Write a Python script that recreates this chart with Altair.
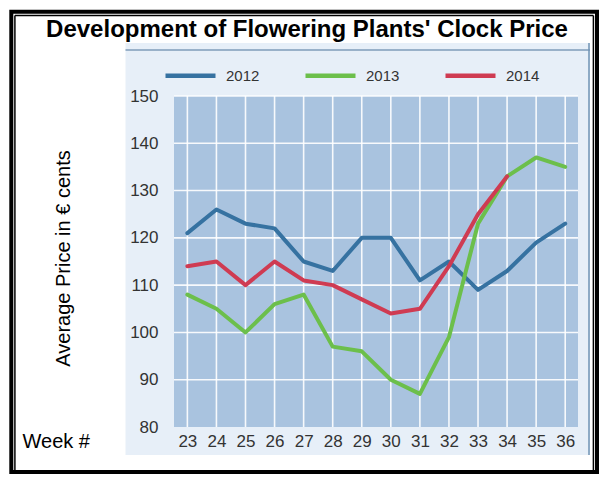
import altair as alt
import pandas as pd

# ---------------- data ----------------
weeks = [23, 24, 25, 26, 27, 28, 29, 30, 31, 32, 33, 34, 35, 36]
years = ["2012", "2013", "2014"]
price_2012 = [121, 126, 123, 122, 115, 113, 120, 120, 111, 115, 109, 113, 119, 123]
price_2013 = [108, 105, 100, 106, 108, 97, 96, 90, 87, 99, 123, 133, 137, 135]
price_2014 = [114, 115, 110, 115, 111, 110, 107, 104, 105, 114, 125, 133]
y_ticks = [80, 90, 100, 110, 120, 130, 140, 150]
grid_y = [90, 100, 110, 120, 130, 140, 150]
colors = ["#3672a1", "#6cbf4b", "#cf3b52"]

title_text = "Development of Flowering Plants' Clock Price"
y_title = "Average Price in € cents"
x_title = "Week #"

rows = []
for yr, vals in zip(years, [price_2012, price_2013, price_2014]):
    for w, v in zip(weeks, vals):
        rows.append({"week": w, "price": v, "year": yr})
df = pd.DataFrame(rows)

# ---------------- layout ----------------
W, H = 404, 331
OX, OY = 174, 96  # page position of the plot origin


def px(p):
    return p - OX


def py(p):
    return p - OY


FONT = "Liberation Sans"
xscale = alt.Scale(domain=[22.54, 36.44], nice=False, zero=False)
yscale = alt.Scale(domain=[80, 150], nice=False, zero=False)

xaxis = alt.Axis(
    values=weeks, format="d", title=x_title, grid=False, domain=False, ticks=False,
    tickSize=0, labelPadding=6, labelFontSize=17, labelColor="#333333", labelFont=FONT,
    labelAngle=0, titleFont=FONT, titleFontSize=20, titleFontWeight="normal",
    titleColor="black", titleX=px(22), titleY=20, titleAlign="left",
    titleBaseline="alphabetic", titleAngle=0, zindex=1,
)
yaxis = alt.Axis(
    values=y_ticks, format="d", title=y_title, grid=False, domain=False, ticks=False,
    tickSize=0, labelPadding=16, labelFontSize=17, labelColor="#333333", labelFont=FONT,
    titleFont=FONT, titleFontSize=20, titleFontWeight="normal", titleColor="black",
    titleX=px(63), titleY=py(258), titleAngle=270, titleAlign="center",
    titleBaseline="middle", zindex=1,
)

one = alt.Data(values=[{"k": 1}])

frame_outer = alt.Chart(one).mark_rect(filled=False, stroke="black", strokeWidth=4).encode(
    x=alt.value(px(11.3)), x2=alt.value(px(597)), y=alt.value(py(11.7)), y2=alt.value(py(472))
)
frame_in_left = alt.Chart(one).mark_rule(color="black", strokeWidth=1.5).encode(
    x=alt.value(px(14.9)), y=alt.value(py(15.5)), y2=alt.value(py(470))
)
frame_in_top = alt.Chart(one).mark_rule(color="black", strokeWidth=1.5).encode(
    x=alt.value(px(14.9)), x2=alt.value(px(593.4)), y=alt.value(py(15.5))
)
frame_in_right = alt.Chart(one).mark_rule(color="black", strokeWidth=1.5).encode(
    x=alt.value(px(593.4)), y=alt.value(py(15.5)), y2=alt.value(py(470))
)
panel = alt.Chart(one).mark_rect(color="#e7eff8").encode(
    x=alt.value(px(125.5)), x2=alt.value(px(590)), y=alt.value(py(43)), y2=alt.value(py(455))
)
panel_top = alt.Chart(one).mark_rule(color="#7f9dba", strokeWidth=1.5).encode(
    x=alt.value(px(125.5)), x2=alt.value(px(590)), y=alt.value(py(50))
)
panel_right = alt.Chart(one).mark_rule(color="#6f93b5", strokeWidth=1.5).encode(
    x=alt.value(px(589)), y=alt.value(py(43)), y2=alt.value(py(455))
)
plot_bg = alt.Chart(one).mark_rect(color="#a9c3df").encode(
    x=alt.value(0), x2=alt.value(W), y=alt.value(0), y2=alt.value(H)
)

grid_x_layer = alt.Chart(pd.DataFrame({"week": weeks})).mark_rule(
    color="white", strokeWidth=1.6, opacity=0.9
).encode(x=alt.X("week:Q", scale=xscale, axis=xaxis))

grid_y_layer = alt.Chart(pd.DataFrame({"price": grid_y})).mark_rule(
    color="white", strokeWidth=1.6, opacity=0.9
).encode(y=alt.Y("price:Q", scale=yscale, axis=yaxis))

lines = alt.Chart(df).mark_line(strokeWidth=4, strokeJoin="round", strokeCap="round").encode(
    x=alt.X("week:Q", scale=xscale, axis=xaxis),
    y=alt.Y("price:Q", scale=yscale, axis=yaxis),
    color=alt.Color(
        "year:N",
        scale=alt.Scale(domain=years, range=colors),
        legend=alt.Legend(
            title=None, orient="none", legendX=px(163), legendY=py(73) - 25,
            direction="horizontal", symbolType="stroke", symbolSize=2500,
            symbolStrokeWidth=4.5, labelFontSize=15, labelColor="#333333",
            labelFont=FONT, labelOffset=8, columnPadding=36, padding=0, zindex=1,
        ),
    ),
    order=alt.Order("week:Q"),
)

title_mark = alt.Chart(pd.DataFrame({"t": [title_text]})).mark_text(
    font=FONT, fontSize=24, fontWeight="bold", color="black", align="center",
    baseline="alphabetic",
).encode(text="t:N", x=alt.value(px(307)), y=alt.value(py(37)))

chart = alt.layer(
    frame_outer, frame_in_left, frame_in_top, frame_in_right,
    panel, panel_top, panel_right, plot_bg,
    grid_x_layer, grid_y_layer, lines, title_mark,
).properties(
    width=W,
    height=H,
    padding={"left": 166, "top": 88, "right": 21, "bottom": 47},
    autosize=alt.AutoSizeParams(type="none"),
    background="white",
).configure_view(strokeWidth=0)

chart.save("out.html", embed_options={"renderer": "svg", "actions": False})
